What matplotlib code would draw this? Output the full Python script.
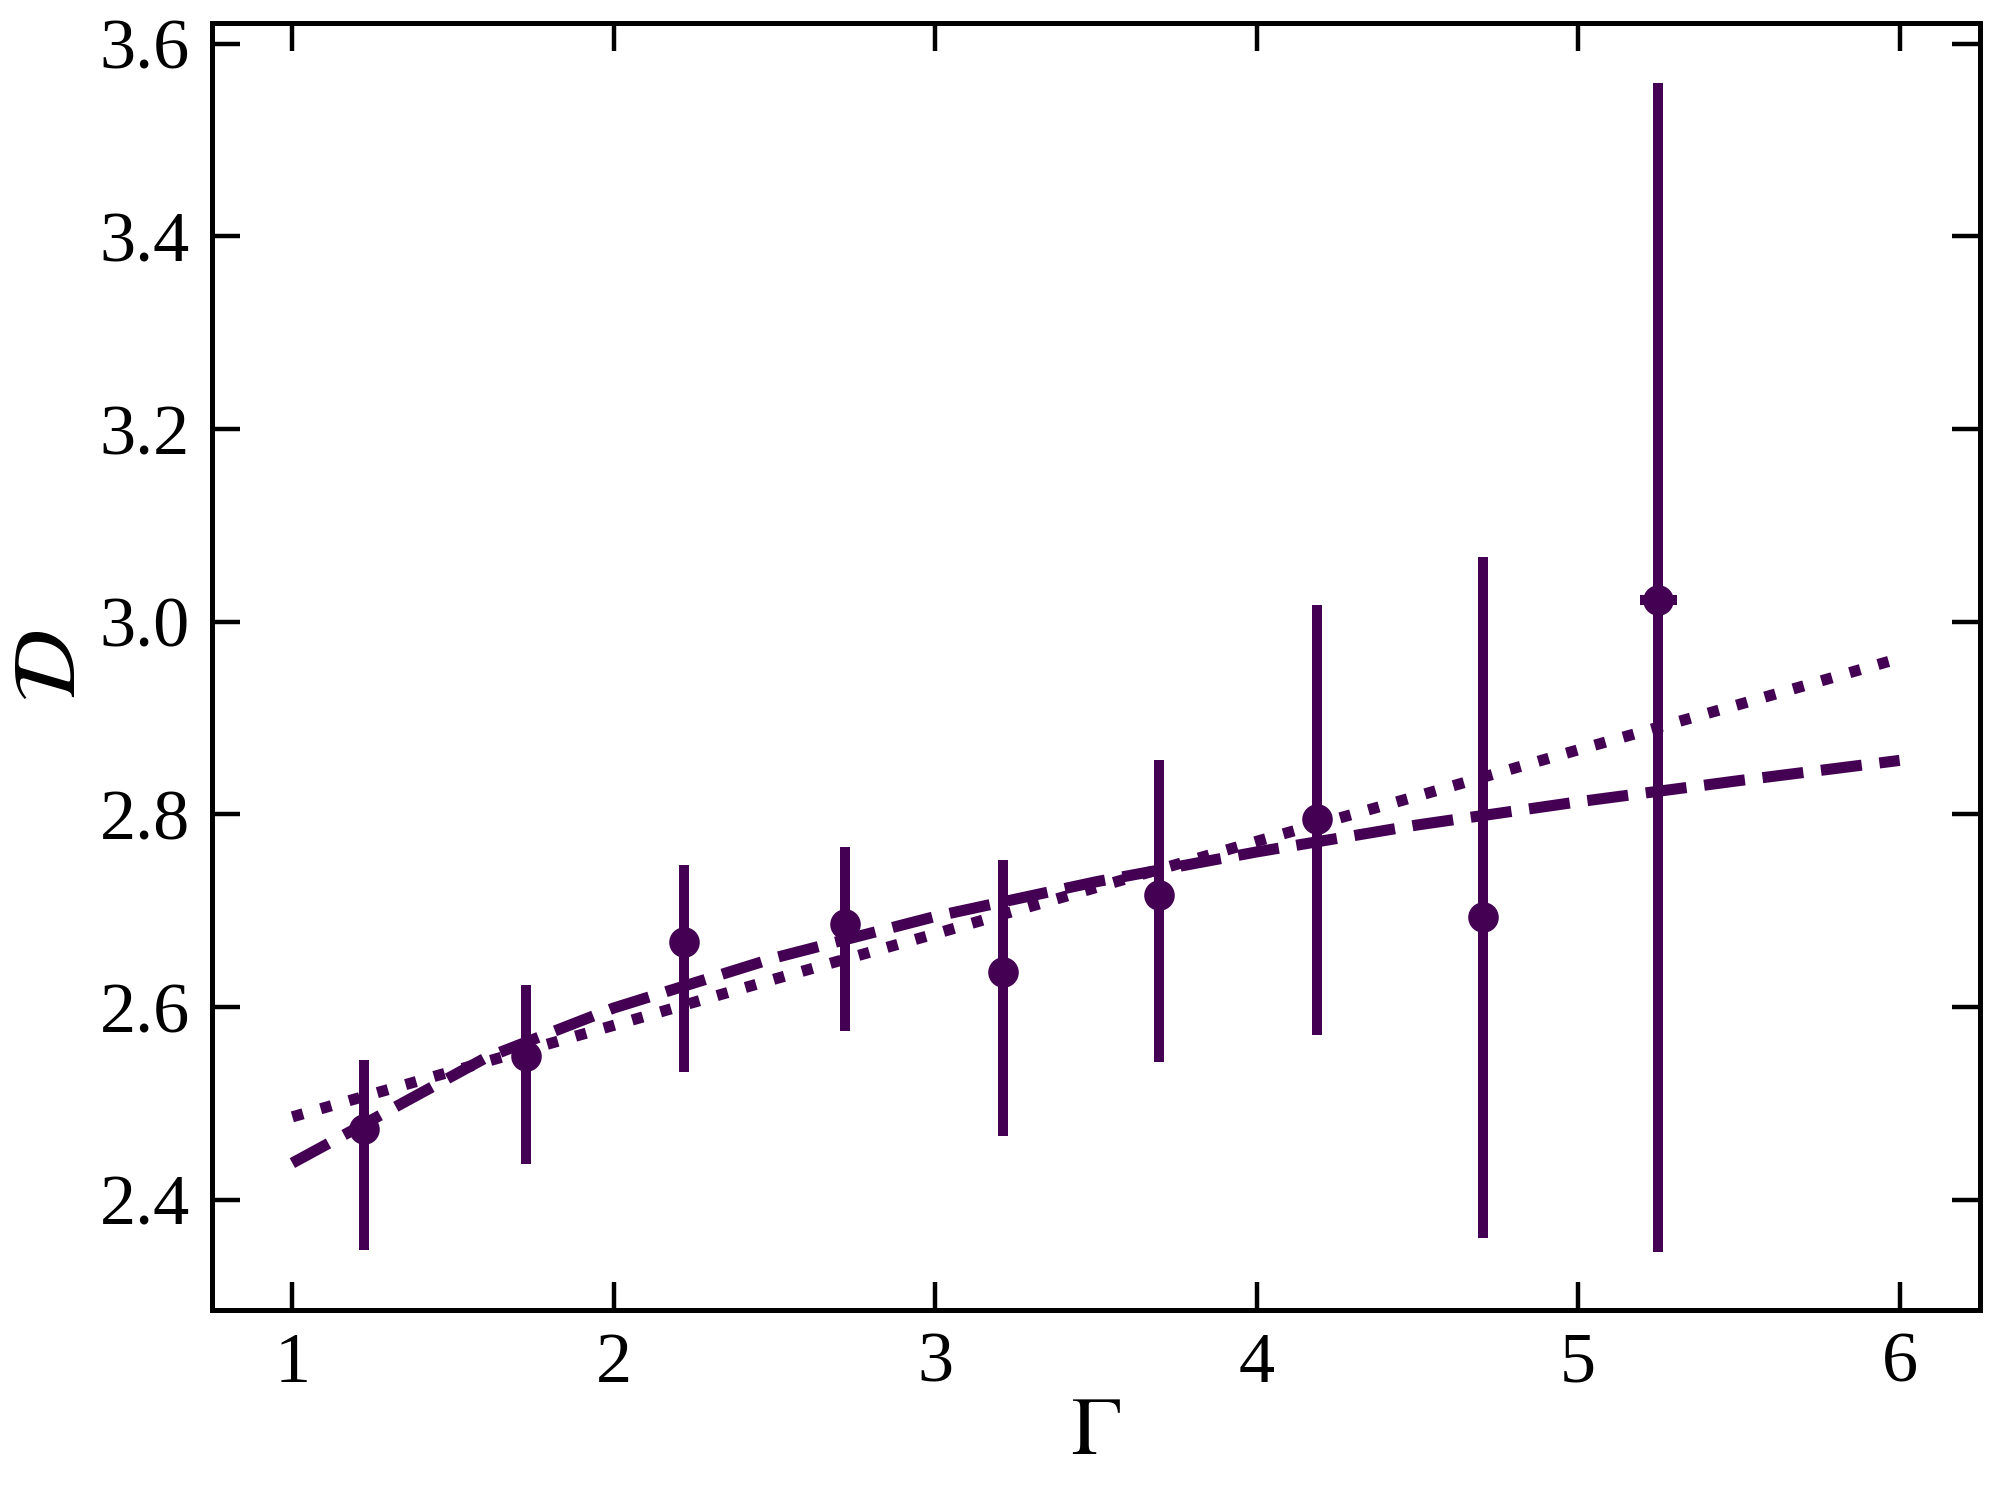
import numpy as np
import matplotlib.pyplot as plt

plt.rcParams['font.family'] = ['Liberation Serif', 'DejaVu Serif']
plt.rcParams['mathtext.fontset'] = 'stix'

# measured points
gamma = [1.222, 1.727, 2.219, 2.720, 3.212, 3.697, 4.189, 4.705, 5.249]
D = [2.473, 2.549, 2.667, 2.686, 2.636, 2.716, 2.795, 2.693, 3.022]
D_hi = [2.545, 2.623, 2.747, 2.766, 2.753, 2.856, 3.017, 3.067, 3.559]
D_lo = [2.348, 2.437, 2.533, 2.575, 2.466, 2.543, 2.571, 2.360, 2.346]
gamma_err = [0.02, 0.02, 0.02, 0.02, 0.02, 0.03, 0.03, 0.044, 0.058]

# fit curves
gamma_fit = [1.0, 1.6, 2.0, 2.5, 3.0, 3.5, 4.0, 4.5, 5.0, 5.5, 6.0]
D_dashed = [2.438, 2.547, 2.599, 2.651, 2.694, 2.730, 2.761, 2.789, 2.813, 2.835, 2.856]
D_dotted = [2.486, 2.543, 2.581, 2.629, 2.676, 2.724, 2.772, 2.819, 2.867, 2.914, 2.962]

color = '#440154'

def main():
    fig = plt.figure(figsize=(10, 7.5), dpi=200)
    ax = fig.add_axes([0.106, 0.127, 0.884, 0.858])

    y = np.array(D)
    yerr = [y - np.array(D_lo), np.array(D_hi) - y]
    ax.errorbar(gamma, D, yerr=yerr, xerr=gamma_err, fmt='o', color=color,
                ms=10, elinewidth=3.6, capsize=0, zorder=3)
    ax.plot(gamma_fit, D_dashed, '--', color=color, lw=4)
    ax.plot(gamma_fit, D_dotted, ':', color=color, lw=4)

    ax.set_xlim(0.75, 6.25)
    ax.set_ylim(2.286, 3.622)
    ax.set_xticks([1, 2, 3, 4, 5, 6])
    ax.set_yticks([2.4, 2.6, 2.8, 3.0, 3.2, 3.4, 3.6])
    ax.set_yticklabels(['2.4', '2.6', '2.8', '3.0', '3.2', '3.4', '3.6'])

    ax.tick_params(direction='in', top=True, right=True, length=10, width=1.6,
                   labelsize=26, pad=8)
    for s in ax.spines.values():
        s.set_linewidth(1.8)

    ax.set_xlabel(r'$\Gamma$', fontsize=30, labelpad=0)
    ax.set_ylabel(r'$\mathcal{D}$', fontsize=32, labelpad=2)

    fig.savefig('out.png', dpi=200)
    plt.close(fig)

if __name__ == "__main__":
    main()
